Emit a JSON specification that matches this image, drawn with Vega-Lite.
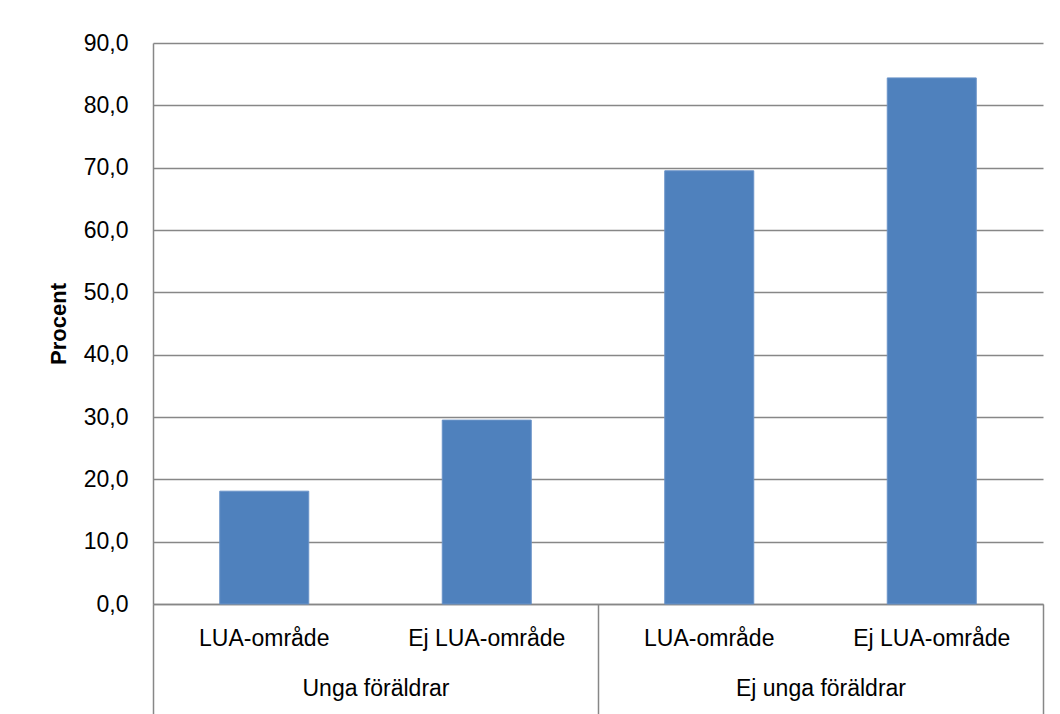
{
  "$schema": "https://vega.github.io/schema/vega-lite/v6.json",
  "width": 890,
  "height": 561,
  "autosize": {"type": "none"},
  "padding": {"left": 153, "top": 43, "right": 17, "bottom": 110},
  "background": "white",
  "config": {
    "font": "Liberation Sans",
    "view": {"stroke": null},
    "axis": {"labelFont": "Liberation Sans", "labelColor": "#000000", "titleColor": "#000000"}
  },
  "data": {
    "values": [
      {"grupp": "Unga föräldrar", "omrade": "LUA-område", "key": "Unga föräldrar|LUA-område", "procent": 18.1},
      {"grupp": "Unga föräldrar", "omrade": "Ej LUA-område", "key": "Unga föräldrar|Ej LUA-område", "procent": 29.5},
      {"grupp": "Ej unga föräldrar", "omrade": "LUA-område", "key": "Ej unga föräldrar|LUA-område", "procent": 69.5},
      {"grupp": "Ej unga föräldrar", "omrade": "Ej LUA-område", "key": "Ej unga föräldrar|Ej LUA-område", "procent": 84.4}
    ]
  },
  "layer": [
    {
      "mark": {"type": "bar", "color": "#4F81BD", "stroke": "#6A93C8", "strokeWidth": 1},
      "encoding": {
        "x": {
          "field": "key",
          "type": "nominal",
          "sort": null,
          "scale": {"paddingInner": 0.6, "paddingOuter": 0.3},
          "axis": {
            "title": null,
            "labelExpr": "split(datum.label, '|')[1]",
            "labelAngle": 0,
            "labelFontSize": 23,
            "labelPadding": 23,
            "ticks": false,
            "tickSize": 0,
            "domain": true,
            "domainColor": "#878787",
            "domainWidth": 1.5,
            "grid": false
          }
        },
        "y": {
          "field": "procent",
          "type": "quantitative",
          "scale": {"domain": [0, 90], "nice": false},
          "axis": {
            "title": "Procent",
            "titleFontSize": 22,
            "titleFontWeight": "bold",
            "titlePadding": 13,
            "values": [0, 10, 20, 30, 40, 50, 60, 70, 80, 90],
            "labelExpr": "replace(format(datum.value, '.1f'), '.', ',')",
            "labelFontSize": 23,
            "labelPadding": 25,
            "ticks": false,
            "domain": true,
            "domainColor": "#878787",
            "domainWidth": 1.5,
            "grid": true,
            "gridColor": "#878787",
            "gridWidth": 1.5
          }
        }
      }
    },
    {
      "mark": {"type": "point", "opacity": 0},
      "encoding": {
        "x": {
          "field": "grupp",
          "type": "nominal",
          "sort": ["Unga föräldrar", "Ej unga föräldrar"],
          "scale": {"paddingInner": 0, "paddingOuter": 0},
          "axis": {
            "title": null,
            "orient": "bottom",
            "labelAngle": 0,
            "labelFontSize": 23,
            "tickBand": "extent",
            "ticks": true,
            "tickSize": 112,
            "tickColor": "#878787",
            "tickWidth": 1.5,
            "labelPadding": -39,
            "domain": false,
            "grid": false
          }
        },
        "y": {"field": "procent", "type": "quantitative"}
      }
    }
  ],
  "resolve": {"scale": {"x": "independent"}, "axis": {"x": "independent"}}
}
